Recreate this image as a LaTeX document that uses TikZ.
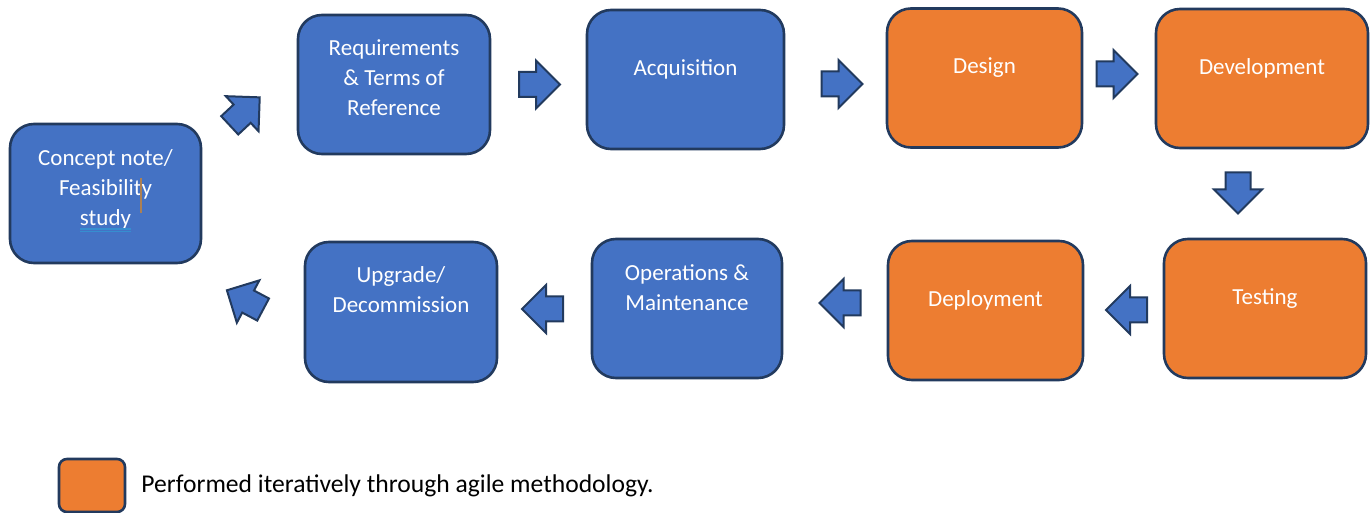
\documentclass[tikz,border=0pt]{standalone}
\usepackage{fontspec}
\setmainfont{Carlito}
\usetikzlibrary{shapes.arrows}
\definecolor{stepblue}{HTML}{4472C4}
\definecolor{steporange}{HTML}{ED7D31}
\definecolor{stepline}{HTML}{223A5E}
\tikzset{
	phase/.style={draw=stepline, line width=1.3pt, rounded corners=12pt, minimum height=69.5pt, inner sep=0pt},
	phasetext/.style={text=white, align=center, font=\fontsize{11.5}{15}\selectfont, yshift=5pt},
	blockarrow/.style={single arrow, draw=stepline, fill=stepblue, line width=1pt, minimum height=20.5pt, minimum width=23pt, single arrow head extend=5.75pt, inner xsep=0pt, inner ysep=5.75pt, anchor=tail},
}

\begin{document}
\begin{tikzpicture}[x=0.5pt, y=-0.5pt]
				\useasboundingbox (0,0) rectangle (1371,513);
				\node[phase, fill=stepblue, minimum width=95.5pt, label={[phasetext, yshift=-2.75pt]center:{Concept note/\\Feasibility\\study}}] (concept) at (105.5,193.5) {};
				\node[phase, fill=stepblue, minimum width=96pt, label={[phasetext, yshift=-1.5pt]center:{Requirements\\\& Terms of\\Reference}}] (req) at (394,84.5) {};
				\node[phase, fill=stepblue, minimum width=98.5pt, label={[phasetext]center:Acquisition}] (acq) at (685.5,79.5) {};
				\node[phase, fill=steporange, minimum width=97.5pt, label={[phasetext]center:Design}] (design) at (984.5,78) {};
				\node[phase, fill=steporange, minimum width=106pt, label={[phasetext]center:Development}] (dev) at (1262,78.5) {};
				\node[phase, fill=steporange, minimum width=101pt, label={[phasetext]center:Testing}] (test) at (1265,308.5) {};
				\node[phase, fill=steporange, minimum width=97.5pt, label={[phasetext]center:Deployment}] (deploy) at (985.5,310.5) {};
				\node[phase, fill=stepblue, minimum width=95pt, label={[phasetext, yshift=5.5pt]center:{Operations \&\\Maintenance}}] (ops) at (687,308.5) {};
				\node[phase, fill=stepblue, minimum width=96pt, minimum height=70pt, label={[phasetext, yshift=6pt]center:{Upgrade/\\Decommission}}] (upgrade) at (401,312) {};
				\node[blockarrow, rotate=43] (a1) at (229,126) {};
				\node[blockarrow] (a2) at (518,84.5) {};
				\node[blockarrow] (a3) at (820.5,84) {};
				\node[blockarrow] (a4) at (1095.5,74) {};
				\node[blockarrow, rotate=-90] (a5) at (1238,171.5) {};
				\node[blockarrow, rotate=180] (a6) at (1148,310) {};
				\node[blockarrow, rotate=180] (a7) at (861.5,303) {};
				\node[blockarrow, rotate=180] (a8) at (564,309) {};
				\node[blockarrow, rotate=152] (a9) at (264,310) {};
				\draw[stepblue!80!cyan, line width=0.6pt] (80,229) -- (131,229) (80,231.5) -- (131,231.5);
				\draw[brown!70!gray, line width=0.7pt] (141,178) -- (141,213);
				\node[draw=stepline, fill=steporange, line width=1.3pt, rounded corners=4pt, minimum width=33pt, minimum height=26.5pt, inner sep=0pt] (key) at (92,485.5) {};
				\node[anchor=west, inner sep=0pt, font=\fontsize{12.8}{15}\selectfont] (keytext) at (141,486) {Performed iteratively through agile methodology.};
			\end{tikzpicture}
\end{document}
